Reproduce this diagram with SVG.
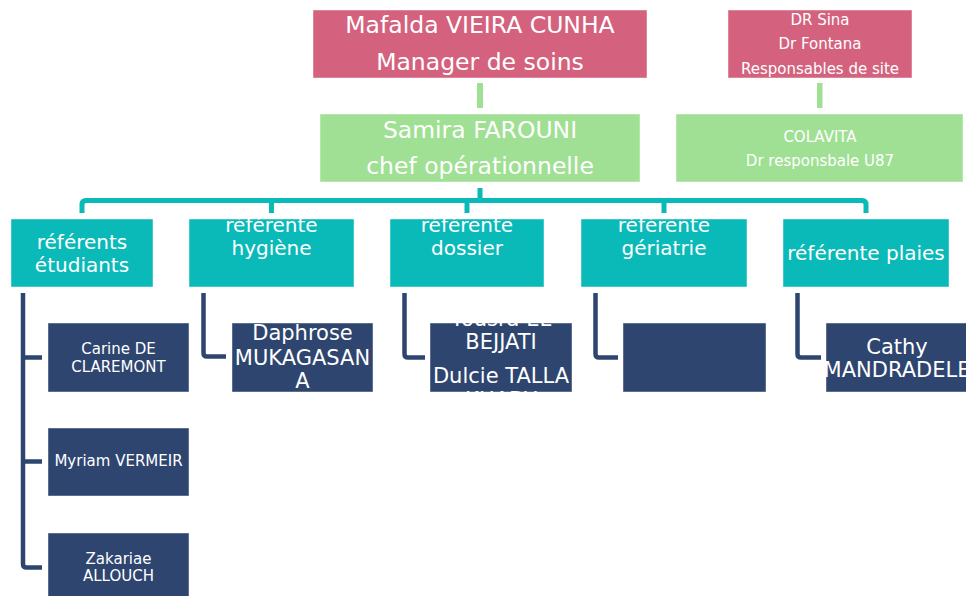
<svg xmlns="http://www.w3.org/2000/svg" width="966" height="596" viewBox="0 0 966 596">
<style>
.pink{fill:#D4627E;stroke:#fff;stroke-opacity:.45;stroke-width:1}
.green{fill:#A0E094;stroke:#fff;stroke-opacity:.45;stroke-width:1}
.teal{fill:#0ABAB9;stroke:#fff;stroke-opacity:.45;stroke-width:1}
.navy{fill:#2E456F;stroke:#fff;stroke-opacity:.45;stroke-width:1}
text{font-family:"DejaVu Sans","Liberation Sans",sans-serif;fill:#fff;text-anchor:middle}
.xl{font-size:23.5px}
.l{font-size:20px}
.lm{font-size:21px}
.s{font-size:15px}
.tc{fill:none;stroke:#0ABAB9;stroke-width:5;stroke-linejoin:round}
.nc{fill:none;stroke:#2E456F;stroke-width:4.5;stroke-linejoin:round}
</style>
<defs>
<clipPath id="c2"><rect x="189" y="219" width="165" height="68"/></clipPath>
<clipPath id="c3"><rect x="390" y="219" width="154" height="68"/></clipPath>
<clipPath id="c4"><rect x="581" y="219" width="166" height="68"/></clipPath>
<clipPath id="cd"><rect x="232" y="323" width="141" height="69"/></clipPath>
<clipPath id="cu"><rect x="430" y="323" width="142" height="69"/></clipPath>
<clipPath id="cc"><rect x="826" y="323" width="142" height="69"/></clipPath>
</defs>
<g id="connectors">
<rect x="477" y="83" width="6" height="25" fill="#A0E094"/>
<rect x="817" y="83" width="5.5" height="25" fill="#A0E094"/>
<path class="tc" d="M480,188 V200.5"/>
<path class="tc" d="M82,213 V204.5 Q82,200.5 86,200.5 H862 Q866,200.5 866,204.5 V213"/>
<path class="tc" d="M271.5,200.5 V213 M467,200.5 V213 M664,200.5 V213"/>
<path class="nc" d="M23,293 V564 Q23,567.5 26.5,567.5 H42 M23,357.5 H42 M23,461.5 H42"/>
<path class="nc" d="M203.5,293 V353 Q203.5,356.5 207,356.5 H226"/>
<path class="nc" d="M404.5,293 V354 Q404.5,357.5 408,357.5 H425"/>
<path class="nc" d="M595.5,293 V354 Q595.5,357.5 599,357.5 H618"/>
<path class="nc" d="M797.5,293 V354 Q797.5,357.5 801,357.5 H821"/>
</g>
<g id="mafalda">
<rect class="pink" x="313" y="10" width="334" height="68"/>
<text class="xl" x="480" y="33">Mafalda VIEIRA CUNHA</text>
<text class="xl" x="480" y="70">Manager de soins</text>
</g>
<g id="responsables">
<rect class="pink" x="728" y="10" width="184" height="68"/>
<text class="s" x="820" y="25">DR Sina</text>
<text class="s" x="820" y="49">Dr Fontana</text>
<text class="s" x="820" y="74">Responsables de site</text>
</g>
<g id="samira">
<rect class="green" x="320" y="114" width="320" height="68"/>
<text class="xl" x="480" y="138">Samira FAROUNI</text>
<text class="xl" x="480" y="174">chef opérationnelle</text>
</g>
<g id="colavita">
<rect class="green" x="676" y="114" width="287" height="68"/>
<text class="s" x="820" y="142">COLAVITA</text>
<text class="s" x="820" y="166">Dr responsbale U87</text>
</g>
<g id="ref-etudiants">
<rect class="teal" x="11" y="219" width="142" height="68"/>
<text class="l" x="82" y="249">référents</text>
<text class="l" x="82" y="272">étudiants</text>
</g>
<g id="ref-hygiene">
<rect class="teal" x="189" y="219" width="165" height="68"/>
<g clip-path="url(#c2)">
<text class="l" x="271.5" y="232">référente</text>
<text class="l" x="271.5" y="255">hygiène</text>
</g>
</g>
<g id="ref-dossier">
<rect class="teal" x="390" y="219" width="154" height="68"/>
<g clip-path="url(#c3)">
<text class="l" x="467" y="232">référente</text>
<text class="l" x="467" y="255">dossier</text>
</g>
</g>
<g id="ref-geriatrie">
<rect class="teal" x="581" y="219" width="166" height="68"/>
<g clip-path="url(#c4)">
<text class="l" x="664" y="232">référente</text>
<text class="l" x="664" y="255">gériatrie</text>
</g>
</g>
<g id="ref-plaies">
<rect class="teal" x="783" y="219" width="166" height="68"/>
<text class="l" x="866" y="260">référente plaies</text>
</g>
<g id="carine">
<rect class="navy" x="48" y="323" width="141" height="69"/>
<text class="s" x="118.5" y="354">Carine DE</text>
<text class="s" x="118.5" y="372">CLAREMONT</text>
</g>
<g id="myriam">
<rect class="navy" x="48" y="428" width="141" height="68"/>
<text class="s" x="118.5" y="466">Myriam VERMEIR</text>
</g>
<g id="zakariae">
<rect class="navy" x="48" y="533" width="141" height="69"/>
<text class="s" x="118.5" y="564">Zakariae</text>
<text class="s" x="118.5" y="581">ALLOUCH</text>
</g>
<g id="daphrose">
<rect class="navy" x="232" y="323" width="141" height="69"/>
<g clip-path="url(#cd)">
<text class="lm" x="302.5" y="340">Daphrose</text>
<text class="lm" x="302.5" y="365">MUKAGASAN</text>
<text class="lm" x="302.5" y="388">A</text>
</g>
</g>
<g id="dossier-team">
<rect class="navy" x="430" y="323" width="142" height="69"/>
<g clip-path="url(#cu)">
<text class="lm" x="501" y="326">Yousra EL</text>
<text class="lm" x="501" y="349">BEJJATI</text>
<text class="lm" x="501" y="383">Dulcie TALLA</text>
<text class="lm" x="501" y="407">KHADY</text>
</g>
</g>
<g id="geriatrie-team">
<rect class="navy" x="623" y="323" width="143" height="69"/>
</g>
<g id="cathy">
<rect class="navy" x="826" y="323" width="142" height="69"/>
<g clip-path="url(#cc)">
<text class="lm" x="897" y="354">Cathy</text>
<text class="lm" x="897" y="377">MANDRADELE</text>
</g>
</g>
</svg>
